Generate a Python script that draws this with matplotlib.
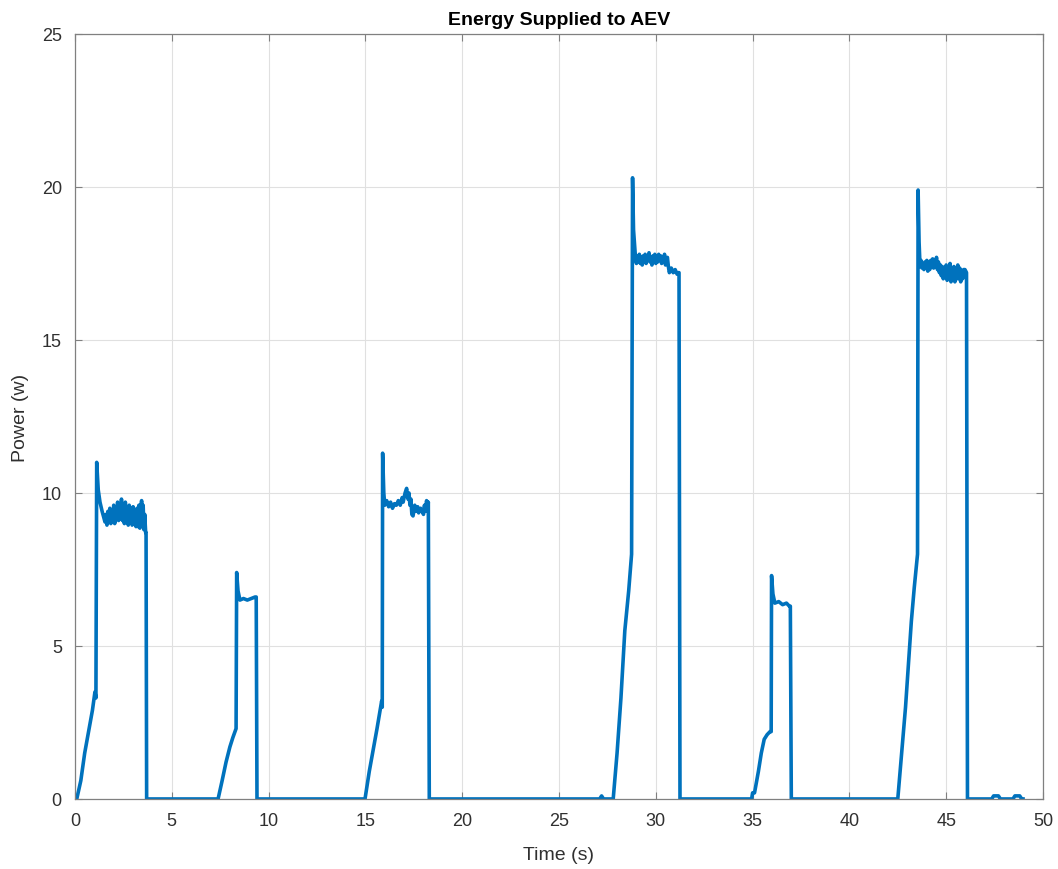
import numpy as np
import matplotlib.pyplot as plt

plt.rcParams['font.family'] = ['Liberation Sans', 'DejaVu Sans']

# Time (s) and power (w)
time_s = [
    0.0, 0.09, 0.3, 0.5, 0.7, 0.9, 1.03, 1.08, 1.12, 1.2, 1.29, 1.4, 1.55,
    1.6, 1.65, 1.7, 1.75, 1.8, 1.85, 1.9, 1.95, 2.0, 2.05, 2.1, 2.15, 2.2,
    2.25, 2.3, 2.35, 2.4, 2.45, 2.5, 2.55, 2.6, 2.65, 2.7, 2.75, 2.8, 2.85,
    2.9, 2.95, 3.0, 3.05, 3.1, 3.15, 3.2, 3.25, 3.3, 3.35, 3.4, 3.44, 3.48,
    3.52, 3.56, 3.6, 3.65, 3.67, 3.7,
    7.39, 7.6, 7.8, 8.0, 8.15, 8.26, 8.32, 8.35, 8.42, 8.52, 8.7, 8.9, 9.1,
    9.3, 9.36, 9.4,
    14.98, 15.2, 15.4, 15.6, 15.84, 15.87, 15.89, 15.95, 16.0, 16.1, 16.2,
    16.3, 16.4, 16.5, 16.6, 16.7, 16.8, 16.9, 16.95, 17.05, 17.13, 17.2,
    17.25, 17.3, 17.35, 17.4, 17.46, 17.55, 17.6, 17.7, 17.75, 17.85, 17.9,
    18.0, 18.05, 18.1, 18.16, 18.22, 18.25, 18.3,
    27.1, 27.2, 27.3, 27.8, 28.0, 28.2, 28.4, 28.6, 28.75, 28.8, 28.85,
    28.95, 29.0, 29.05, 29.1, 29.15, 29.2, 29.25, 29.3, 29.35, 29.4, 29.45,
    29.5, 29.55, 29.6, 29.65, 29.7, 29.75, 29.8, 29.85, 29.9, 29.95, 30.0,
    30.05, 30.1, 30.15, 30.2, 30.25, 30.3, 30.35, 30.4, 30.45, 30.5, 30.55,
    30.6, 30.65, 30.7, 30.8, 30.9, 31.0, 31.1, 31.15, 31.2, 31.25,
    34.95, 35.0, 35.1, 35.3, 35.45, 35.6, 35.75, 35.9, 35.96, 35.98, 36.05,
    36.15, 36.35, 36.55, 36.75, 36.9, 36.95, 37.0,
    42.5, 42.7, 42.9, 43.05, 43.2, 43.35, 43.47, 43.52, 43.55, 43.6, 43.65,
    43.7, 43.75, 43.8, 43.85, 43.9, 43.95, 44.0, 44.05, 44.1, 44.15, 44.2,
    44.25, 44.3, 44.35, 44.4, 44.45, 44.5, 44.55, 44.6, 44.65, 44.7, 44.75,
    44.8, 44.85, 44.9, 44.95, 45.0, 45.05, 45.1, 45.15, 45.2, 45.25, 45.3,
    45.35, 45.4, 45.45, 45.5, 45.55, 45.6, 45.65, 45.7, 45.75, 45.8, 45.85,
    45.9, 45.97, 46.05, 46.1,
    47.35, 47.45, 47.7, 47.8, 48.45, 48.55, 48.8, 48.9, 48.97,
]
power_w = [
    0.0, 0.0, 0.6, 1.5, 2.2, 2.9, 3.5, 3.3, 11.0, 10.1, 9.7, 9.4, 9.05,
    9.3, 8.95, 9.4, 9.05, 9.5, 9.0, 9.4, 9.1, 9.6, 9.0, 9.5, 9.15, 9.7,
    9.1, 9.55, 9.2, 9.8, 9.1, 9.6, 9.0, 9.7, 9.2, 9.5, 8.95, 9.6, 9.1,
    9.5, 8.95, 9.55, 9.0, 9.4, 8.9, 9.5, 8.9, 9.6, 8.85, 9.5, 9.75, 8.9,
    9.6, 8.8, 9.3, 8.7, 8.7, 0.0,
    0.0, 0.6, 1.2, 1.7, 2.0, 2.2, 2.3, 7.4, 6.8, 6.5, 6.55, 6.5, 6.55,
    6.6, 6.6, 0.0,
    0.0, 0.9, 1.6, 2.3, 3.2, 3.0, 11.3, 10.0, 9.6, 9.75, 9.55, 9.7, 9.5,
    9.65, 9.6, 9.75, 9.6, 9.85, 9.7, 10.0, 10.15, 9.8, 10.0, 9.6, 9.8,
    9.3, 9.25, 9.6, 9.4, 9.55, 9.35, 9.5, 9.45, 9.3, 9.6, 9.4, 9.75, 9.5,
    9.7, 0.0,
    0.0, 0.1, 0.0, 0.0, 1.5, 3.3, 5.5, 6.8, 8.0, 20.3, 18.6,
    17.7, 17.5, 17.75, 17.55, 17.8, 17.5, 17.7, 17.45, 17.75, 17.55, 17.8,
    17.5, 17.7, 17.6, 17.85, 17.55, 17.7, 17.45, 17.75, 17.6, 17.8, 17.5,
    17.7, 17.55, 17.8, 17.6, 17.75, 17.5, 17.7, 17.55, 17.8, 17.45, 17.6,
    17.7, 17.4, 17.2, 17.35, 17.2, 17.3, 17.15, 17.2, 17.2, 0.0,
    0.0, 0.2, 0.2, 0.9, 1.5, 1.95, 2.1, 2.2, 2.2, 7.3, 6.7,
    6.4, 6.45, 6.35, 6.4, 6.3, 6.3, 0.0,
    0.0, 1.5, 3.0, 4.4, 5.8, 6.9, 7.7, 8.0, 19.9, 18.2, 17.4,
    17.6, 17.35, 17.5, 17.3, 17.55, 17.35, 17.6, 17.25, 17.5, 17.3, 17.6,
    17.4, 17.65, 17.35, 17.6, 17.4, 17.7, 17.3, 17.55, 17.2, 17.45, 17.1,
    17.4, 17.0, 17.35, 17.1, 17.45, 16.95, 17.3, 17.0, 17.5, 16.9, 17.3,
    17.05, 17.4, 16.9, 17.2, 17.0, 17.45, 17.0, 17.35, 16.9, 17.25, 17.0,
    17.3, 17.3, 17.2, 0.0,
    0.0, 0.1, 0.1, 0.0, 0.0, 0.1, 0.1, 0.0, 0.0,
]

x_ticks = np.arange(0, 51, 5)
y_ticks = np.arange(0, 26, 5)

fig = plt.figure(figsize=(10.58, 8.7), dpi=100)
ax = fig.add_axes([0.0709, 0.0805, 0.9149, 0.8793])

ax.plot(time_s, power_w, color='#0072BD', linewidth=2.6, solid_joinstyle='round')

ax.set_xlim(0, 50)
ax.set_ylim(0, 25)
ax.set_xticks(x_ticks)
ax.set_yticks(y_ticks)
ax.grid(True, color='#e0e0e0', linewidth=0.8)
ax.set_axisbelow(True)
ax.tick_params(direction='in', length=5, color='#808080', labelsize=13,
               labelcolor='#303030', pad=9.5, top=True, right=True)
for s in ax.spines.values():
    s.set_color('#808080')
    s.set_linewidth(0.9)

ax.set_xlabel('Time (s)', fontsize=14, color='#303030', labelpad=12)
ax.set_ylabel('Power (w)', fontsize=14, color='#303030', labelpad=9)
ax.set_title('Energy Supplied to AEV', fontsize=14, fontweight='bold', pad=7)

fig.savefig('out.png', dpi=100)
